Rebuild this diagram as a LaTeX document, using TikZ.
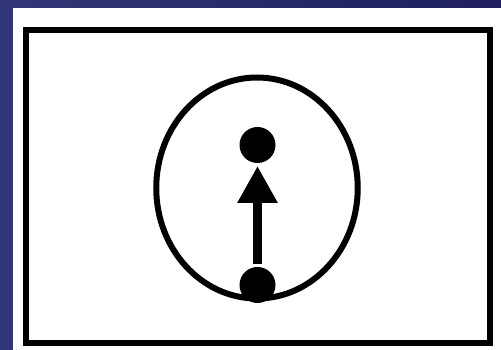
\documentclass[tikz,border=0pt]{standalone}
\usetikzlibrary{shapes.geometric,arrows.meta}
\definecolor{navybg}{RGB}{30,31,92}
\definecolor{navylt}{RGB}{50,54,118}
\tikzset{
  dot/.style={circle, fill=black, inner sep=0pt, minimum size=7.2mm},
}
\begin{document}
\begin{tikzpicture}[x=0.2mm, y=-0.2mm, line width=1.2mm]
  \useasboundingbox (0,0) rectangle (501,350);
  \shade[left color=navylt, right color=navybg] (0,0) rectangle (501,350);
  \fill[white] (13,8) rectangle (501,350);
  \node[draw, rectangle, minimum width=92.7mm, minimum height=62.7mm, inner sep=0pt] (frame) at (258.25,186.75) {};
  \node[draw, ellipse, minimum width=40.3mm, minimum height=44.2mm, inner sep=0pt] (ring) at (257,188) {};
  \node[dot] (p1) at (257.5,145) {};
  \node[dot] (p0) at (257.5,285) {};
  \draw[line width=1.8mm, -{Triangle[length=7.4mm, width=7.6mm]}] (p0) -- (p1);
\end{tikzpicture}
\end{document}
